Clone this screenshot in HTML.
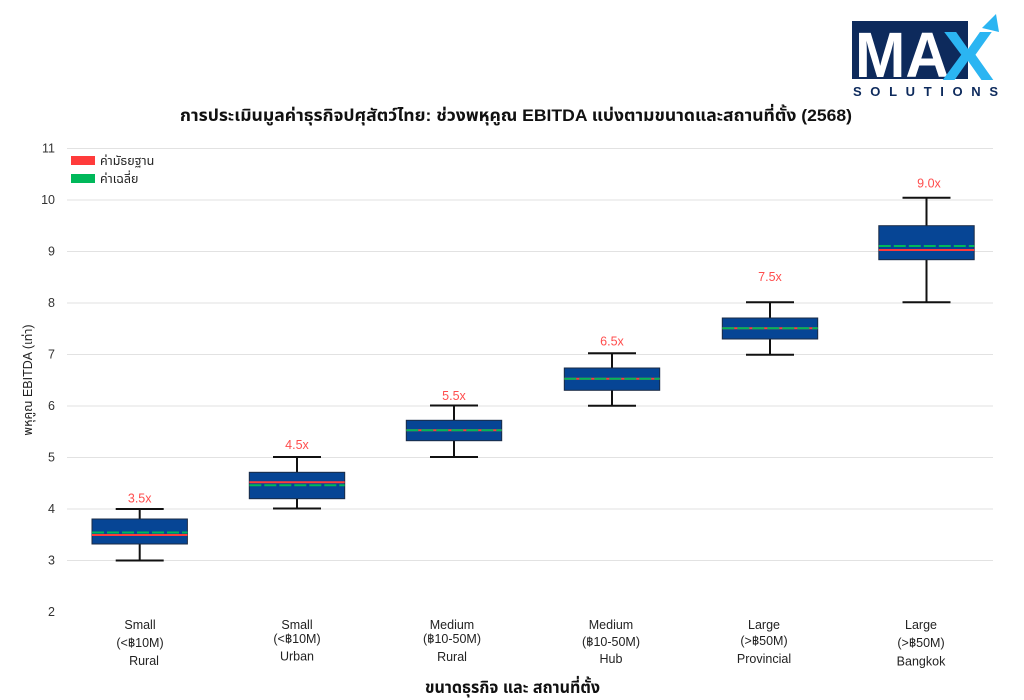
<!DOCTYPE html>
<html><head><meta charset="utf-8"><style>
html,body{margin:0;padding:0;background:#fff;}
svg{display:block;}
text{font-family:"Liberation Sans","Noto Sans Thai","Tlwg Typist","Garuda","Loma",sans-serif;}
</style></head><body>
<svg width="1024" height="700" viewBox="0 0 1024 700" xmlns="http://www.w3.org/2000/svg">
<rect width="1024" height="700" fill="#fff"/>
<!-- Logo -->
<rect x="852" y="21" width="116" height="58" fill="#0d2a5c"/>
<text x="855" y="77" font-size="64" font-weight="bold" fill="#fff" style="font-family:'Liberation Sans',sans-serif" textLength="94" lengthAdjust="spacingAndGlyphs">MA</text>
<text x="942" y="80" font-size="70" font-weight="bold" fill="#2bb5f2" style="font-family:'Liberation Sans',sans-serif" textLength="52" lengthAdjust="spacingAndGlyphs">X</text>
<polygon points="982,28 996,14 999,32" fill="#2bb5f2"/>
<text x="853" y="96" font-size="13" font-weight="bold" fill="#0d2a5c" textLength="145" lengthAdjust="spacing" style="font-family:'Liberation Sans',sans-serif">SOLUTIONS</text>

<!-- Title -->
<text x="180" y="121" font-size="16.5" font-weight="bold" fill="#111" textLength="672" lengthAdjust="spacingAndGlyphs">การประเมินมูลค่าธุรกิจปศุสัตว์ไทย: ช่วงพหุคูณ EBITDA แบ่งตามขนาดและสถานที่ตั้ง (2568)</text>

<!-- Gridlines -->
<g stroke="#e2e2e2" stroke-width="1">
<line x1="67" x2="993" y1="148.5" y2="148.5"/>
<line x1="67" x2="993" y1="200" y2="200"/>
<line x1="67" x2="993" y1="251.5" y2="251.5"/>
<line x1="67" x2="993" y1="303" y2="303"/>
<line x1="67" x2="993" y1="354.5" y2="354.5"/>
<line x1="67" x2="993" y1="406" y2="406"/>
<line x1="67" x2="993" y1="457.5" y2="457.5"/>
<line x1="67" x2="993" y1="509" y2="509"/>
<line x1="67" x2="993" y1="560.5" y2="560.5"/>
</g>

<!-- Y ticks -->
<g font-size="12.5" fill="#333" text-anchor="end">
<text x="55" y="152.5">11</text>
<text x="55" y="204">10</text>
<text x="55" y="255.5">9</text>
<text x="55" y="307">8</text>
<text x="55" y="358.5">7</text>
<text x="55" y="410">6</text>
<text x="55" y="461.5">5</text>
<text x="55" y="513">4</text>
<text x="55" y="564.5">3</text>
<text x="55" y="616">2</text>
</g>
<text transform="translate(32,380) rotate(-90)" font-size="12.5" fill="#222" text-anchor="middle">พหุคูณ EBITDA (เท่า)</text>

<!-- Legend -->
<rect x="71" y="156" width="24" height="9" fill="#ff3b3b"/>
<text x="100" y="165" font-size="12.5" fill="#222">ค่ามัธยฐาน</text>
<rect x="71" y="174" width="24" height="9" fill="#00b85a"/>
<text x="100" y="183" font-size="12.5" fill="#222">ค่าเฉลี่ย</text>

<!-- Boxes -->
<g stroke="#111" stroke-width="2" fill="none">
<line x1="139.7" x2="139.7" y1="509" y2="519"/><line x1="139.7" x2="139.7" y1="544" y2="560.5"/>
<line x1="115.7" x2="163.7" y1="509" y2="509"/><line x1="115.7" x2="163.7" y1="560.5" y2="560.5"/>
<line x1="297" x2="297" y1="457" y2="472.3"/><line x1="297" x2="297" y1="498.7" y2="508.5"/>
<line x1="273" x2="321" y1="457" y2="457"/><line x1="273" x2="321" y1="508.5" y2="508.5"/>
<line x1="454" x2="454" y1="405.5" y2="420.3"/><line x1="454" x2="454" y1="440.7" y2="457"/>
<line x1="430" x2="478" y1="405.5" y2="405.5"/><line x1="430" x2="478" y1="457" y2="457"/>
<line x1="612" x2="612" y1="353.3" y2="368"/><line x1="612" x2="612" y1="390.3" y2="405.7"/>
<line x1="588" x2="636" y1="353.3" y2="353.3"/><line x1="588" x2="636" y1="405.7" y2="405.7"/>
<line x1="770" x2="770" y1="302.3" y2="318"/><line x1="770" x2="770" y1="339" y2="354.7"/>
<line x1="746" x2="794" y1="302.3" y2="302.3"/><line x1="746" x2="794" y1="354.7" y2="354.7"/>
<line x1="926.5" x2="926.5" y1="197.7" y2="225.7"/><line x1="926.5" x2="926.5" y1="259.7" y2="302.3"/>
<line x1="902.5" x2="950.5" y1="197.7" y2="197.7"/><line x1="902.5" x2="950.5" y1="302.3" y2="302.3"/>
</g>
<g fill="#064595" stroke="#1b2b45" stroke-width="1">
<rect x="92" y="519" width="95.4" height="25"/>
<rect x="249.3" y="472.3" width="95.4" height="26.4"/>
<rect x="406.3" y="420.3" width="95.4" height="20.4"/>
<rect x="564.3" y="368" width="95.4" height="22.3"/>
<rect x="722.3" y="318" width="95.4" height="21"/>
<rect x="878.8" y="225.7" width="95.4" height="34"/>
</g>
<!-- medians -->
<g stroke="#ff3b3b" stroke-width="2">
<line x1="92" x2="187.4" y1="535" y2="535"/>
<line x1="249.3" x2="344.7" y1="482.3" y2="482.3"/>
<line x1="406.3" x2="501.7" y1="430.3" y2="430.3"/>
<line x1="564.3" x2="659.7" y1="378.7" y2="378.7"/>
<line x1="722.3" x2="817.7" y1="328.3" y2="328.3"/>
<line x1="878.8" x2="974.2" y1="250" y2="250"/>
</g>
<!-- means -->
<g stroke="#00b85a" stroke-width="2" stroke-dasharray="12,3">
<line x1="92" x2="187.4" y1="532.5" y2="532.5"/>
<line x1="249.3" x2="344.7" y1="485.3" y2="485.3"/>
<line x1="406.3" x2="501.7" y1="430.3" y2="430.3"/>
<line x1="564.3" x2="659.7" y1="378.7" y2="378.7"/>
<line x1="722.3" x2="817.7" y1="328.3" y2="328.3"/>
<line x1="878.8" x2="974.2" y1="246" y2="246"/>
</g>

<!-- annotations -->
<g font-size="12.5" fill="#ff4d4d" text-anchor="middle">
<text x="139.7" y="502.5">3.5x</text>
<text x="297" y="449">4.5x</text>
<text x="454" y="400">5.5x</text>
<text x="612" y="345.5">6.5x</text>
<text x="770" y="281">7.5x</text>
<text x="929" y="187.5">9.0x</text>
</g>

<!-- x labels -->
<g font-size="12.5" fill="#222" text-anchor="middle">
<text x="140" y="629">Small</text><text x="140" y="647">(&lt;฿10M)</text><text x="144" y="665">Rural</text>
<text x="297" y="629">Small</text><text x="297" y="643">(&lt;฿10M)</text><text x="297" y="660.5">Urban</text>
<text x="452" y="629">Medium</text><text x="452" y="643">(฿10-50M)</text><text x="452" y="661">Rural</text>
<text x="611" y="629">Medium</text><text x="611" y="646">(฿10-50M)</text><text x="611" y="663">Hub</text>
<text x="764" y="629">Large</text><text x="764" y="645">(&gt;฿50M)</text><text x="764" y="663">Provincial</text>
<text x="921" y="629">Large</text><text x="921" y="647">(&gt;฿50M)</text><text x="921" y="665.5">Bangkok</text>
</g>
<text x="425" y="693" font-size="16.5" font-weight="bold" fill="#111" textLength="175" lengthAdjust="spacingAndGlyphs">ขนาดธุรกิจ และ สถานที่ตั้ง</text>
</svg>
</body></html>
